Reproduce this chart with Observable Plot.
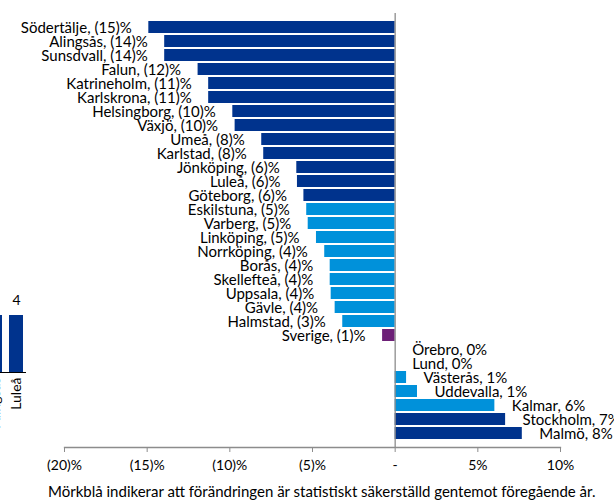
<!DOCTYPE html>
<html><head><meta charset="utf-8">
<script src="https://cdn.jsdelivr.net/npm/d3@7"></script>
<script src="https://cdn.jsdelivr.net/npm/@observablehq/plot@0.6"></script>
<style>
body{margin:0;background:#fff;font-family:Lato, sans-serif;}
#wrap{position:relative;width:614px;height:502px;overflow:hidden;background:#fff;}
#caption{position:absolute;left:48px;top:481px;white-space:nowrap;text-align:left;font-size:15px;line-height:20px;color:#000;font-family:Lato, sans-serif;}
</style></head><body><div id="wrap"></div>
<script>
const cities = ["Södertälje","Alingsås","Sunsdvall","Falun","Katrineholm","Karlskrona","Helsingborg","Växjö","Umeå","Karlstad","Jönköping","Luleå","Göteborg","Eskilstuna","Varberg","Linköping","Norrköping","Borås","Skellefteå","Uppsala","Gävle","Halmstad","Sverige","Örebro","Lund","Västerås","Uddevalla","Kalmar","Stockholm","Malmö"];
const changes = [-14.9,-13.94,-13.94,-11.92,-11.28,-11.28,-9.82,-9.68,-8.07,-7.95,-5.95,-5.91,-5.52,-5.35,-5.26,-4.76,-4.26,-3.93,-3.93,-3.87,-3.63,-3.17,-0.76,0,0,0.69,1.35,6.03,6.68,7.69];
const groups = ["dark","dark","dark","dark","dark","dark","dark","dark","dark","dark","dark","dark","dark","light","light","light","light","light","light","light","light","light","total","light","light","light","light","light","dark","dark"];
const xTicks = [-20,-15,-10,-5,0,5,10];
const caption = "Mörkblå indikerar att förändringen är statistiskt säkerställd gentemot föregående år.";
const miniCats = ["Alingsås","Luleå"];
const miniVals = [4,4];

const colors = {dark:"#00338D", light:"#0091DA", total:"#6D2077"};
const data = cities.map((c,i)=>({city:c, v:changes[i], g:groups[i]}));
const fmtPct = v => { const r = Math.round(v); return r < 0 ? `(${-r})%` : `${r}%`; };
data.forEach(d => d.label = `${d.city}, ${fmtPct(d.v)}`);
const tickFmt = d => d === 0 ? "-" : (d < 0 ? `(${-d})%` : `${d}%`);

const main = Plot.plot({
  width: 614, height: 476,
  marginTop: 13, marginBottom: 29, marginLeft: 64, marginRight: 54,
  style: {fontFamily: "Lato, sans-serif", fontSize: "14px", background: "white", color: "#000"},
  x: {domain: [-20, 10]},
  y: {domain: cities, padding: 0.14, axis: null},
  marks: [
    Plot.barX(data, {x: "v", y: "city", fill: d => colors[d.g]}),
    Plot.ruleX([0], {stroke: "#8c8c8c", strokeWidth: 1.3}),
    Plot.frame({anchor: "bottom", stroke: "#8c8c8c", strokeWidth: 1.3}),
    Plot.axisX({ticks: xTicks, tickFormat: tickFmt, tickSize: 5, tickPadding: 8, fontSize: 14, stroke: "#8c8c8c", fill: "#000", label: null}),
    Plot.text(data.filter(d => d.v < 0), {x: "v", y: "city", text: "label", textAnchor: "end", dx: -17, dy: 1, fontSize: 15, fill: "#000"}),
    Plot.text(data.filter(d => d.v >= 0), {x: "v", y: "city", text: "label", textAnchor: "start", dx: 17, dy: 1, fontSize: 15, fill: "#000"})
  ]
});
document.getElementById("wrap").appendChild(main);

const mini = Plot.plot({
  width: 42, height: 132,
  marginTop: 35, marginBottom: 40, marginLeft: 0, marginRight: 0,
  style: {fontFamily: "Lato, sans-serif", fontSize: "14px", background: "transparent", overflow: "visible"},
  x: {type: "band", domain: miniCats, paddingInner: 0.35, paddingOuter: 0.175},
  y: {domain: [0, 4], axis: null},
  marks: [
    Plot.barY(miniCats.map((c,i)=>({c, v: miniVals[i]})), {x: "c", y: "v", fill: colors.dark}),
    Plot.text(miniCats.map((c,i)=>({c, v: miniVals[i]})), {x: "c", y: "v", text: d => String(d.v), dy: -15, fontSize: 14, fill: "#000"}),
    Plot.ruleY([0], {stroke: "#000"}),
    Plot.axisX({tickRotate: -90, tickSize: 0, tickPadding: 5, fontSize: 14, fill: "#000", label: null})
  ]
});
mini.style.position = "absolute";
mini.style.left = "-16px";
mini.style.top = "280px";
document.getElementById("wrap").appendChild(mini);

const cap = document.createElement("div");
cap.id = "caption";
cap.textContent = caption;
document.getElementById("wrap").appendChild(cap);
</script>
</body></html>
